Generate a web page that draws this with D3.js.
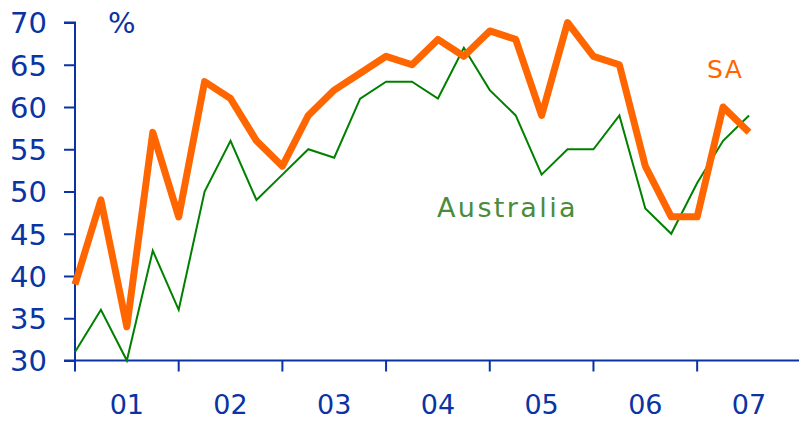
<!DOCTYPE html>
<html>
<head>
<meta charset="utf-8">
<script src="https://cdn.jsdelivr.net/npm/d3@7"></script>
<style>
  body { margin: 0; background: #fff; }
  text { font-family: "DejaVu Sans", Verdana, sans-serif; }
</style>
</head>
<body>
<svg id="chart" width="799" height="421"></svg>
<script>
// quarterly values, first point sits on the 2001 tick
var saValues = [39, 49, 34, 57, 47, 63, 61, 56, 53, 59, 62, 64, 66, 65, 68, 66, 69, 68, 59, 70, 66, 65, 53, 47, 47, 60, 57];
var ausValues = [31, 36, 30, 43, 36, 50, 56, 49, 52, 55, 54, 61, 63, 63, 61, 67, 62, 59, 52, 55, 55, 59, 48, 45, 51, 56, 59];
var yearLabels = ["01", "02", "03", "04", "05", "06", "07"];
var yTicks = [30, 35, 40, 45, 50, 55, 60, 65, 70];

var axisColor = "#0a33a3";

var svg = d3.select("#chart");

// x: one step per quarter
var x = d3.scaleLinear().domain([0, 26]).range([75, 749]);
var y = d3.scaleLinear().domain([30, 70]).range([360.5, 22.5]);

// y axis
var yAxis = d3.axisLeft(y).tickValues(yTicks).tickSize(11).tickPadding(17);
var gy = svg.append("g").attr("transform", "translate(75,0)").call(yAxis);
gy.select(".domain").attr("stroke", axisColor).attr("stroke-width", 2).attr("d", "M0," + y(30) + "V" + y(70) + "H-11");
gy.selectAll(".tick line").attr("stroke", axisColor).attr("stroke-width", 2);
gy.selectAll(".tick text")
  .attr("fill", axisColor)
  .style("font-size", "29px")
  .attr("dy", "0.36em");

// x axis: ticks every 4 quarters, labels in between
var gx = svg.append("g");
gx.append("line")
  .attr("x1", 64).attr("x2", 799)
  .attr("y1", y(30)).attr("y2", y(30))
  .attr("stroke", axisColor).attr("stroke-width", 2);
gx.selectAll(".xt")
  .data(d3.range(0, 25, 4))
  .enter().append("line")
  .attr("x1", function (d) { return x(d); })
  .attr("x2", function (d) { return x(d); })
  .attr("y1", y(30)).attr("y2", y(30) + 11)
  .attr("stroke", axisColor).attr("stroke-width", 2);
gx.selectAll(".xl")
  .data(yearLabels)
  .enter().append("text")
  .attr("x", function (d, i) { return x(i * 4 + 2); })
  .attr("y", 414)
  .attr("text-anchor", "middle")
  .attr("fill", axisColor)
  .style("font-size", "27px")
  .text(function (d) { return d; });

// unit label
svg.append("text")
  .attr("x", 108).attr("y", 33)
  .attr("fill", axisColor)
  .style("font-size", "29px")
  .text("%");

var line = d3.line()
  .x(function (d, i) { return x(i); })
  .y(function (d) { return y(d); });

svg.append("path")
  .datum(ausValues)
  .attr("d", line)
  .attr("fill", "none")
  .attr("stroke", "#008000")
  .attr("stroke-width", 2);

svg.append("path")
  .datum(saValues)
  .attr("d", line)
  .attr("fill", "none")
  .attr("stroke", "#ff6600")
  .attr("stroke-width", 7)
  .attr("stroke-linejoin", "round");

// series labels
svg.append("text")
  .attr("x", 437).attr("y", 217)
  .attr("fill", "#4a8c3c")
  .style("font-size", "27px")
  .style("letter-spacing", "2.4px")
  .text("Australia");

svg.append("text")
  .attr("x", 707).attr("y", 78)
  .attr("fill", "#ff6600")
  .style("font-size", "25px")
  .style("letter-spacing", "1.5px")
  .text("SA");
</script>
</body>
</html>
